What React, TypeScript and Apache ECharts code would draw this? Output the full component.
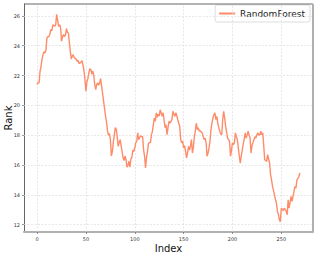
import React, { useEffect, useRef } from "react";
import * as echarts from "echarts";

const seriesName = "RandomForest";
const rankValues: number[] = [
  21.4, 21.55, 21.5, 22.3, 22.6, 23.1, 23.4, 23.6, 23.5, 23.7,
  24.5, 24.6, 24.6, 24.75, 25.1, 25.0, 25.4, 25.35, 25.3, 25.4,
  26.1, 25.7, 25.3, 25.4, 25.2, 24.3, 24.6, 24.75, 24.6, 24.7,
  25.15, 24.9, 24.85, 24.2, 23.6, 23.1, 23.3, 23.4, 23.2, 23.15,
  23.1, 22.95, 23.0, 22.8, 22.85, 22.9, 23.0, 22.7, 22.3, 21.7,
  20.95, 21.6, 21.8, 22.2, 22.45, 22.4, 22.1, 22.3, 22.0, 21.4,
  21.05, 21.4, 21.5, 21.35, 21.5, 21.8, 21.3, 20.8, 20.3, 19.8,
  19.3, 18.9, 18.3, 18.0, 18.1, 17.7, 16.6, 16.9, 17.5, 18.0,
  18.5, 18.4, 17.9, 17.25, 17.5, 17.7, 17.3, 16.9, 16.5, 16.3,
  16.6, 16.35, 15.85, 15.95, 16.25, 15.85, 16.4, 16.5, 17.0, 16.9,
  17.15, 17.5, 17.6, 18.15, 17.7, 17.85, 17.95, 17.9, 17.9, 17.0,
  16.6, 15.8, 16.5, 16.9, 17.45, 17.5, 17.5, 18.0, 18.25, 18.7,
  19.15, 18.93, 19.5, 19.2, 19.4, 19.3, 19.7, 19.5, 19.26, 19.5,
  19.0, 18.5, 18.7, 18.03, 18.5, 18.93, 18.8, 18.9, 19.04, 19.6,
  19.4, 19.26, 19.5, 19.3, 19.04, 18.8, 18.6, 17.7, 17.48, 17.6,
  17.14, 17.3, 16.9, 16.47, 16.8, 17.25, 17.0, 17.3, 17.7, 16.8,
  17.2, 17.9, 18.3, 18.8, 18.37, 18.5, 18.26, 18.3, 18.2, 18.15,
  17.9, 17.7, 17.8, 17.5, 16.58, 16.8, 17.14, 17.6, 18.37, 18.8,
  19.15, 19.38, 19.5, 19.04, 19.26, 18.8, 18.5, 18.26, 18.1, 18.03,
  19.04, 19.6, 19.15, 18.6, 18.2, 17.8, 17.7, 17.58, 16.58, 17.0,
  17.48, 17.36, 17.5, 18.15, 17.9, 17.7, 17.14, 16.6, 16.13, 16.6,
  17.0, 17.4, 17.7, 18.15, 17.8, 18.0, 18.26, 18.0, 17.8, 16.8,
  17.3, 17.5, 17.7, 17.9, 17.8, 18.03, 18.15, 18.0, 18.03, 18.26,
  18.03, 18.15, 17.3, 16.35, 16.3, 16.24, 16.7, 16.4, 16.13, 15.35,
  15.0, 14.56, 14.3, 14.0, 13.7, 13.45, 12.9, 12.7, 12.33, 12.2,
  13.1, 13.0, 12.95, 13.1, 13.0, 12.9, 12.66, 13.67, 13.1, 13.5,
  13.9, 13.56, 13.9, 14.23, 14.56, 14.45, 15.0, 15.1, 15.23, 15.46,
];
const xTicks = [0, 50, 100, 150, 200, 250];
const yTicks = [12, 14, 16, 18, 20, 22, 24, 26];

export default function App() {
  const ref = useRef<HTMLDivElement>(null);
  useEffect(() => {
    document.body.style.margin = "0";
    if (!ref.current) return;
    const chart = echarts.init(ref.current, null, { renderer: "svg" });
    const n = rankValues.length - 1;
    const xPad = n * 0.05;
    const yMin = Math.min(...rankValues);
    const yMax = Math.max(...rankValues);
    const yPad = (yMax - yMin) * 0.05;
    const font = "DejaVu Sans";
    const gridLeft = 24;
    const gridTop = 4;
    const gridRight = 6;
    const gridBottom = 23;
    chart.setOption({
      animation: false,
      backgroundColor: "#ffffff",
      textStyle: { fontFamily: font },
      grid: {
        left: gridLeft,
        top: gridTop,
        right: gridRight,
        bottom: gridBottom,
        containLabel: false,
        outerBoundsMode: "none",
        show: true,
        borderWidth: 0,
        backgroundColor: "#ffffff",
      },
      legend: {
        show: true,
        right: 9,
        top: 5,
        orient: "vertical",
        itemWidth: 16,
        itemHeight: 2,
        itemGap: 4,
        padding: [4, 5, 4, 4],
        borderColor: "#dddddd",
        borderWidth: 1,
        borderRadius: 2,
        backgroundColor: "rgba(255,255,255,0.8)",
        textStyle: { fontSize: 9, color: "#222", fontFamily: font },
        icon: "rect",
        data: [{ name: seriesName, icon: "rect" }],
      },
      xAxis: {
        type: "value",
        min: -xPad,
        max: n + xPad,
        name: "Index",
        nameLocation: "middle",
        nameGap: 11,
        nameMoveOverlap: false,
        nameTextStyle: { fontSize: 10, color: "#111", fontFamily: font },
        axisLine: { show: true, onZero: false, lineStyle: { color: "#b0b0b0", width: 2 } },
        axisTick: {
          show: true,
          length: 2,
          lineStyle: { color: "#555", width: 0.6 },
          customValues: xTicks,
        },
        axisLabel: {
          fontSize: 5,
          color: "#333",
          margin: 4,
          customValues: xTicks,
          formatter: (v: number) => String(v),
        },
        splitLine: { show: false },
      },
      yAxis: {
        type: "value",
        min: yMin - yPad,
        max: yMax + yPad,
        name: "Rank",
        nameLocation: "middle",
        nameGap: 11,
        nameMoveOverlap: false,
        nameRotate: 90,
        nameTextStyle: { fontSize: 10, color: "#111", fontFamily: font },
        axisLine: { show: true, onZero: false, lineStyle: { color: "#666", width: 1 } },
        axisTick: {
          show: true,
          length: 2,
          lineStyle: { color: "#555", width: 0.6 },
          customValues: yTicks,
        },
        axisLabel: {
          fontSize: 5,
          color: "#333",
          margin: 4,
          customValues: yTicks,
          formatter: (v: number) => String(v),
        },
        splitLine: { show: false },
      },
      series: [
        {
          name: seriesName,
          type: "line",
          data: rankValues.map((v, i) => [i, v]),
          showSymbol: false,
          symbol: "none",
          lineStyle: { color: "#ff8c69", width: 1.4 },
          itemStyle: { color: "#ff8c69" },
          z: 5,
        },
        {
          name: "xgrid",
          type: "line",
          data: [],
          silent: true,
          markLine: {
            silent: true,
            symbol: "none",
            label: { show: false },
            lineStyle: { color: "#dcdcdc", type: [2, 1.5], width: 0.7 },
            data: [
              ...xTicks.map((x) => ({ xAxis: x })),
              ...yTicks.map((y) => ({ yAxis: y })),
            ],
          },
          z: 1,
        },
      ],
      graphic: [
        {
          type: "line",
          shape: { x1: gridLeft, y1: gridTop, x2: 319 - gridRight, y2: gridTop },
          style: { stroke: "#666", lineWidth: 1 },
          z: 10,
        },
        {
          type: "line",
          shape: { x1: 319 - gridRight, y1: gridTop, x2: 319 - gridRight, y2: 255 - gridBottom },
          style: { stroke: "#b0b0b0", lineWidth: 2 },
          z: 10,
        },
      ],
    });
    return () => chart.dispose();
  }, []);
  return <div ref={ref} style={{ width: 319, height: 255 }} />;
}
